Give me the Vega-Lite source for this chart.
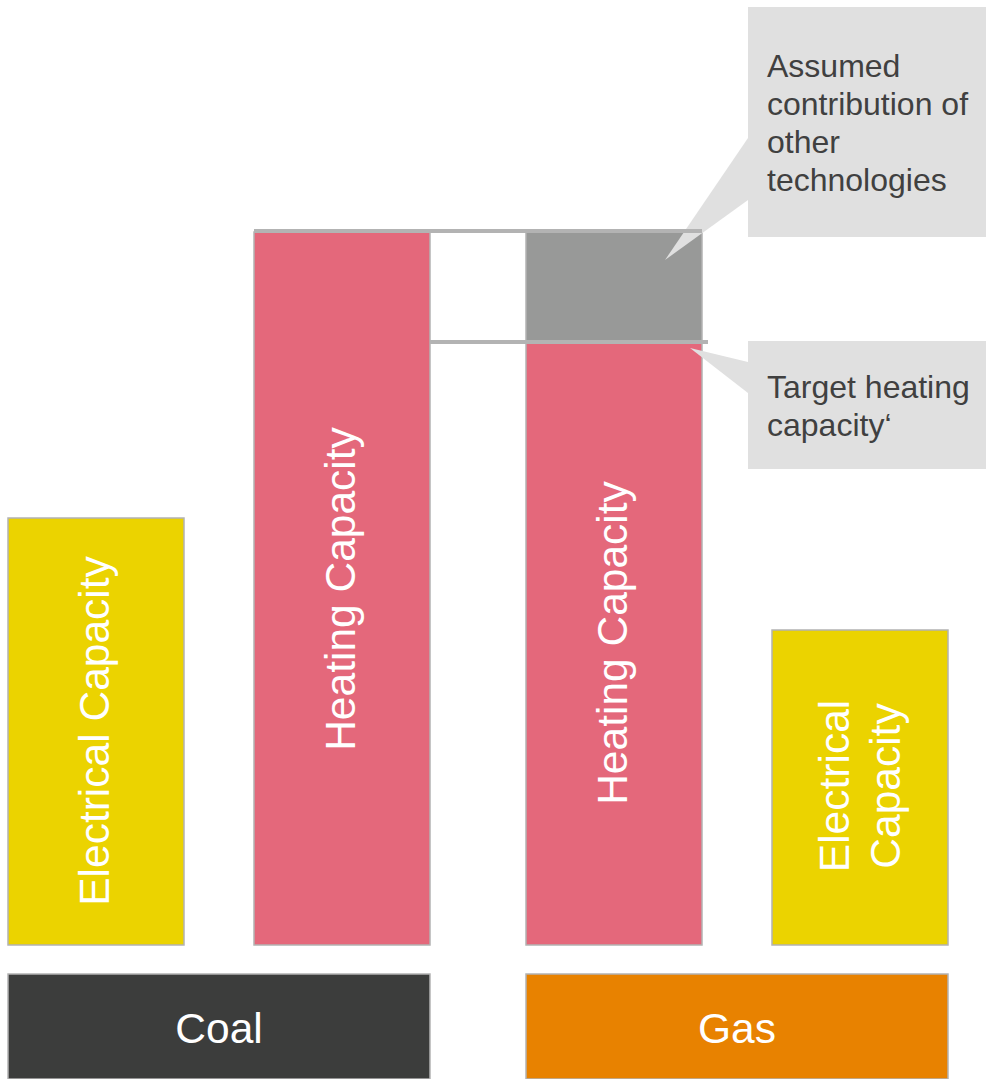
{
  "$schema": "https://vega.github.io/schema/vega-lite/v6.json",
  "width": 986,
  "height": 1079,
  "padding": 0,
  "autosize": {"type": "fit", "contains": "padding"},
  "background": "white",
  "config": {"view": {"stroke": null}, "font": "Liberation Sans"},
  "datasets": {
    "blocks": [
      {"kind": "Electrical", "x": 8, "x2": 184, "y": 0, "y2": 427},
      {"kind": "Heating", "x": 254, "x2": 430, "y": 0, "y2": 713},
      {"kind": "Heating", "x": 526, "x2": 702, "y": 0, "y2": 602},
      {"kind": "Other", "x": 526, "x2": 702, "y": 602, "y2": 713},
      {"kind": "Electrical", "x": 772, "x2": 948, "y": 0, "y2": 315},
      {"kind": "Coal", "x": 8, "x2": 430, "y": -134, "y2": -29},
      {"kind": "Gas", "x": 526, "x2": 948, "y": -134, "y2": -29}
    ],
    "callouts": [
      {"id": "other", "x": 748, "x2": 986, "y": 708, "y2": 938},
      {"id": "target", "x": 748, "x2": 986, "y": 476, "y2": 604}
    ],
    "pointers": [
      {"id": "other", "x": 665, "y": 685, "y2": 685},
      {"id": "other", "x": 748, "y": 807, "y2": 745},
      {"id": "target", "x": 690, "y": 597, "y2": 597},
      {"id": "target", "x": 748, "y": 583, "y2": 552}
    ],
    "levels": [
      {"x": 254, "x2": 702, "y": 714},
      {"x": 430, "x2": 708, "y": 603}
    ],
    "calloutText": [
      {"label": "Assumed\ncontribution of\nother\ntechnologies", "x": 767, "y": 868},
      {"label": "Target heating\ncapacity‘", "x": 767, "y": 547}
    ],
    "barText": [
      {"label": "Electrical Capacity", "x": 96, "y": 214},
      {"label": "Heating Capacity", "x": 342, "y": 356},
      {"label": "Heating Capacity", "x": 614, "y": 302},
      {"label": "Electrical\nCapacity", "x": 836, "y": 159}
    ],
    "catText": [
      {"label": "Coal", "x": 219, "y": -85},
      {"label": "Gas", "x": 737, "y": -85}
    ]
  },
  "layer": [
    {
      "data": {"name": "blocks"},
      "mark": {"type": "rect", "stroke": "#B3B3B3", "strokeWidth": 1.5, "clip": true},
      "encoding": {
        "x": {"field": "x", "type": "quantitative", "axis": null, "scale": {"domain": [0, 986], "nice": false, "zero": false}},
        "x2": {"field": "x2"},
        "y": {"field": "y", "type": "quantitative", "axis": null, "scale": {"domain": [-134, 945], "nice": false, "zero": false}},
        "y2": {"field": "y2"},
        "color": {
          "field": "kind", "type": "nominal", "legend": null,
          "scale": {"domain": ["Electrical", "Heating", "Other", "Coal", "Gas"], "range": ["#EBD300", "#E4687B", "#989998", "#3C3D3C", "#E88200"]}
        }
      }
    },
    {
      "data": {"name": "callouts"},
      "mark": {"type": "rect", "fill": "#E0E0E0"},
      "encoding": {
        "x": {"field": "x", "type": "quantitative", "axis": null},
        "x2": {"field": "x2"},
        "y": {"field": "y", "type": "quantitative", "axis": null},
        "y2": {"field": "y2"}
      }
    },
    {
      "data": {"name": "pointers"},
      "mark": {"type": "area", "fill": "#E0E0E0", "orient": "vertical"},
      "encoding": {
        "x": {"field": "x", "type": "quantitative", "axis": null},
        "y": {"field": "y", "type": "quantitative", "axis": null, "stack": null},
        "y2": {"field": "y2"},
        "detail": {"field": "id"}
      }
    },
    {
      "data": {"name": "levels"},
      "mark": {"type": "rule", "stroke": "#B3B3B3", "strokeWidth": 4},
      "encoding": {
        "x": {"field": "x", "type": "quantitative", "axis": null},
        "x2": {"field": "x2"},
        "y": {"field": "y", "type": "quantitative", "axis": null}
      }
    },
    {
      "data": {"name": "calloutText"},
      "mark": {"type": "text", "align": "left", "baseline": "alphabetic", "fontSize": 32, "lineHeight": 38, "lineBreak": "\n", "color": "#404040"},
      "encoding": {
        "x": {"field": "x", "type": "quantitative", "axis": null},
        "y": {"field": "y", "type": "quantitative", "axis": null},
        "text": {"field": "label"}
      }
    },
    {
      "data": {"name": "barText"},
      "mark": {"type": "text", "align": "center", "baseline": "middle", "angle": 270, "fontSize": 42.5, "lineHeight": 51, "lineBreak": "\n", "color": "white"},
      "encoding": {
        "x": {"field": "x", "type": "quantitative", "axis": null},
        "y": {"field": "y", "type": "quantitative", "axis": null},
        "text": {"field": "label"}
      }
    },
    {
      "data": {"name": "catText"},
      "mark": {"type": "text", "align": "center", "baseline": "middle", "fontSize": 42.5, "color": "white"},
      "encoding": {
        "x": {"field": "x", "type": "quantitative", "axis": null},
        "y": {"field": "y", "type": "quantitative", "axis": null},
        "text": {"field": "label"}
      }
    }
  ]
}
